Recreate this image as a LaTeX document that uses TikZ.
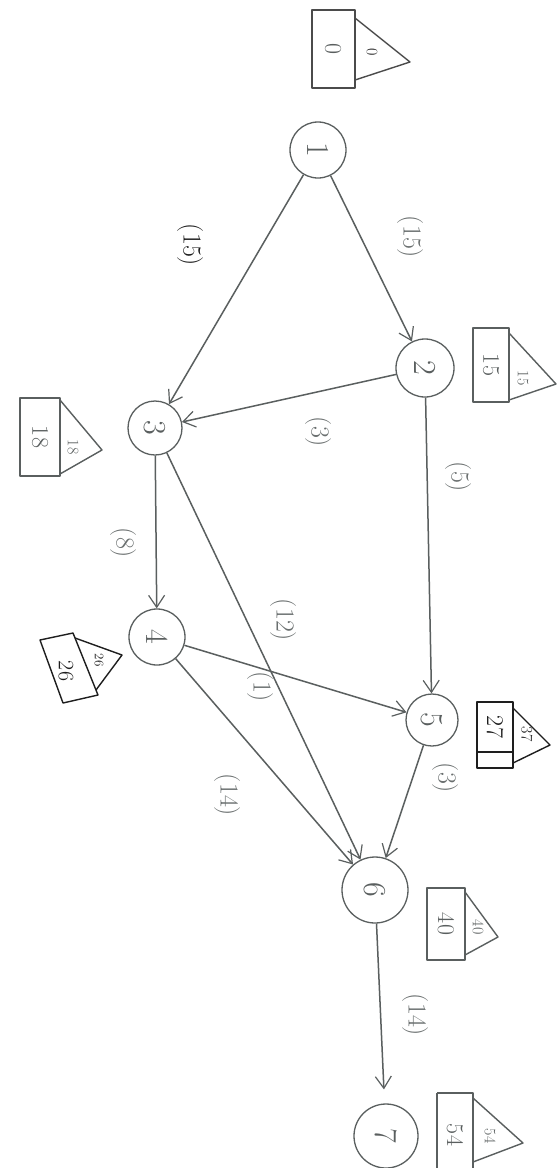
\documentclass[tikz,border=0pt]{standalone}
\usetikzlibrary{arrows.meta}
\definecolor{pen}{HTML}{5A5F5F}
\definecolor{ink}{HTML}{1E1E1E}
\definecolor{pale}{HTML}{6A6F6F}
\begin{document}
\begin{tikzpicture}[x=1pt,y=-1pt,
  ev/.style={circle,draw=pen,line width=1.3pt,inner sep=0pt,text=pen,rotate=-90,font=\fontsize{32}{32}\selectfont},
  edge/.style={draw=pen,line width=1.5pt,-{Straight Barb[length=12pt,width=16pt,line width=1.2pt]}},
  lab/.style={text=pale,rotate=-90,font=\fontsize{26}{26}\selectfont,inner sep=1pt},
  boxline/.style={draw=pen,line width=1.4pt,line join=round},
  boxtxt/.style={text=pen,rotate=-90,font=\fontsize{24}{24}\selectfont,inner sep=0pt},
  tritxt/.style={text=pen,rotate=-90,font=\fontsize{16}{16}\selectfont,inner sep=0pt}
]
\useasboundingbox (0,0) rectangle (557,1168);
\fill[white] (0,0) rectangle (557,1168);

% events
\node[ev,minimum size=56pt] (n1) at (318,150) {1};
\node[ev,minimum size=58pt] (n2) at (425,368) {2};
\node[ev,minimum size=54pt] (n3) at (155,428) {3};
\node[ev,minimum size=56pt] (n4) at (157,637) {4};
\node[ev,minimum size=52pt] (n5) at (432,720) {5};
\node[ev,minimum size=66pt] (n6) at (375,890) {6};
\node[ev,minimum size=64pt] (n7) at (386,1136) {7};

% activities
\draw[edge] (n1) -- (n2);
\draw[edge] (n1) -- (n3);
\draw[edge] (n2) -- (n3);
\draw[edge] (n2) -- (n5);
\draw[edge] (n3) -- (n4);
\draw[edge] (n3) -- (n6);
\draw[edge] (n4) -- (n5);
\draw[edge] (n4) -- (n6);
\draw[edge] (n5) -- (n6);
\draw[edge,shorten >=14pt] (n6) -- (n7);

% durations
\node[lab] (l12) at (410,237) {(15)};
\node[lab,text=ink] (l13) at (190,245) {(15)};
\node[lab] (l23) at (318,432) {(3)};
\node[lab] (l25) at (458,477) {(5)};
\node[lab] (l34) at (123,543) {(8)};
\node[lab] (l36) at (283,620) {(12)};
\node[lab] (l45) at (260,687) {(1)};
\node[lab] (l46) at (227,795) {(14)};
\node[lab] (l56) at (445,778) {(3)};
\node[lab] (l67) at (415,1015) {(14)};

% time boxes
% box 1
\draw[boxline,draw=ink!80] (312,10) rectangle (355,88);
\draw[boxline,draw=ink!80] (355,18) -- (410,62) -- (355,80);
\node[boxtxt] (r1) at (333,49) {0};
\node[tritxt,text=ink] (t1) at (372,52) {0};
% box 2
\draw[boxline] (473,328) rectangle (509,402);
\draw[boxline] (509,333) -- (556,384) -- (509,400);
\node[boxtxt] (r2) at (491,365) {15};
\node[tritxt] (t2) at (523,378) {15};
% box 3
\draw[boxline] (20,398) rectangle (60,476);
\draw[boxline] (60,400) -- (102,450) -- (60,474);
\node[boxtxt] (r3) at (40,437) {18};
\node[tritxt] (t3) at (73,447) {18};
% box 4
\draw[boxline,draw=ink] (40,640) -- (73,633) -- (98,695) -- (63,703) -- cycle;
\draw[boxline,draw=ink] (75,638) -- (122,655) -- (96,690);
\node[boxtxt,text=ink,font=\fontsize{22}{22}\selectfont] (r4) at (66,671) {26};
\node[tritxt,text=ink,font=\fontsize{13}{13}\selectfont] (t4) at (99,660) {26};
% box 5
\draw[boxline,draw=ink] (477,702) rectangle (513,768);
\draw[boxline,draw=ink] (477,752) -- (513,752);
\draw[boxline,draw=ink] (513,708) -- (550,745) -- (513,763);
\node[boxtxt,text=ink] (r5) at (495,727) {27};
\node[tritxt,text=ink] (t5) at (527,734) {37};
% box 6
\draw[boxline] (427,888) rectangle (465,960);
\draw[boxline] (465,892) -- (498,937) -- (465,955);
\node[boxtxt] (r6) at (446,924) {40};
\node[tritxt] (t6) at (478,927) {40};
% box 7
\draw[boxline] (437,1093) -- (473,1093) -- (473,1170);
\draw[boxline] (437,1093) -- (437,1170);
\draw[boxline] (473,1098) -- (523,1143) -- (473,1162);
\node[boxtxt] (r7) at (455,1135) {54};
\node[tritxt] (t7) at (490,1136) {54};
\end{tikzpicture}
\end{document}
